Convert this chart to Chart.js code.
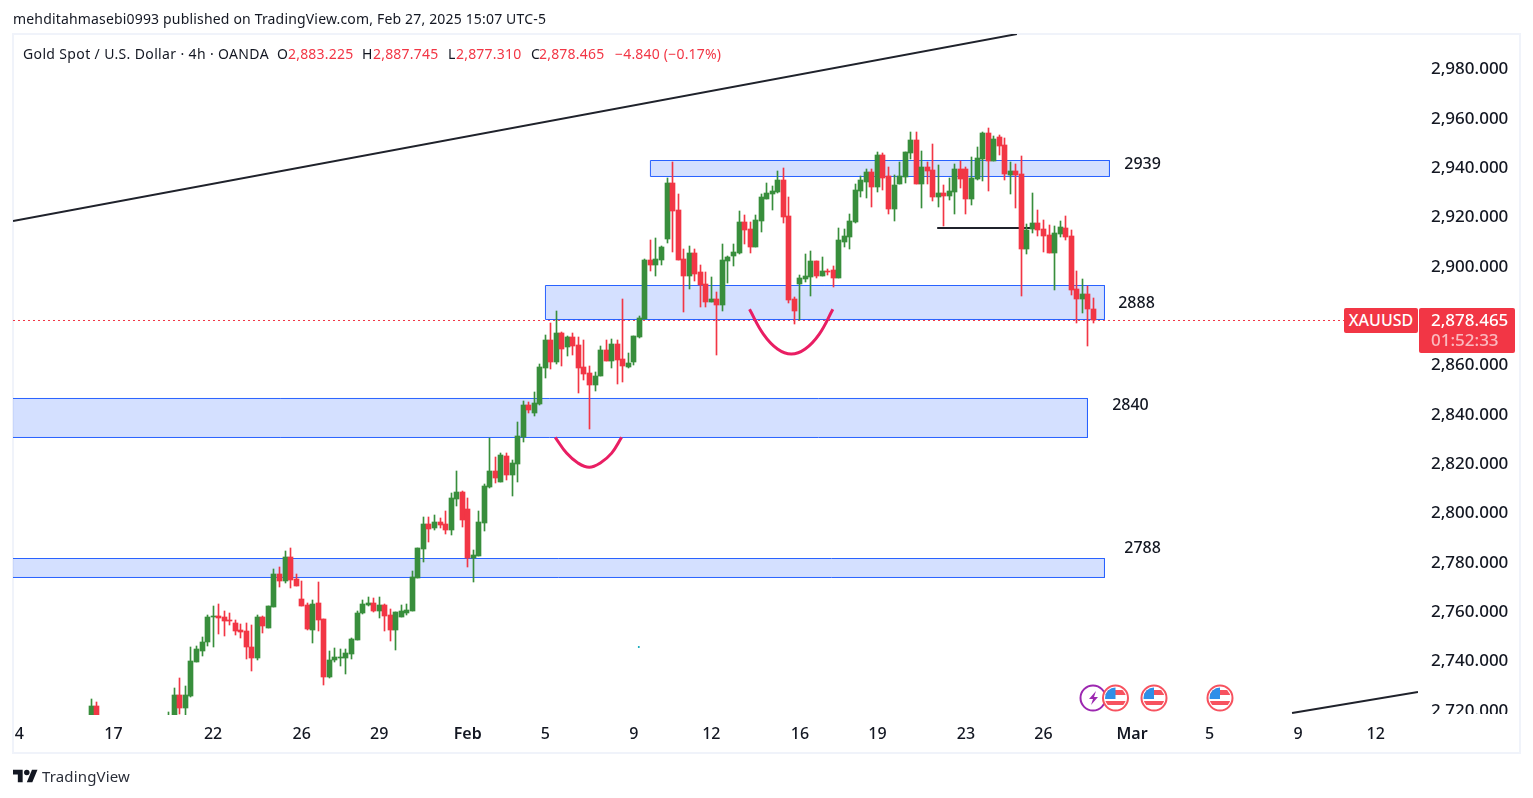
<!DOCTYPE html>
<html>
<head>
<meta charset="utf-8">
<title>XAUUSD 4h</title>
<script src="https://cdn.jsdelivr.net/npm/chart.js@4"></script>
<style>
html,body{margin:0;background:#fff;overflow:hidden}
body{width:1533px;height:798px;position:relative;font-family:"Noto Sans",sans-serif;color:#131722}
canvas{position:absolute;left:0;top:0}
.t{position:absolute;white-space:nowrap;line-height:20px}
.v{font-size:14px;top:44px;letter-spacing:.2px}
.r{color:#f23645}
#frame{position:absolute;left:12px;top:33px;width:1505px;height:717px;border:2px solid #f0f3fa}
#mask{position:absolute;left:1419px;top:714px;width:100px;height:10px;background:#fff}
.tag{position:absolute;background:#f23645;color:#fff;border-radius:2px;text-align:center;white-space:nowrap;font-weight:500}
svg{position:absolute;left:0;top:0}
</style>
</head>
<body>
<div id="frame"></div>
<canvas id="grafico" width="1533" height="798"></canvas>
<div id="mask"></div>
<div class="t" style="left:13px;top:9px;font-size:14px;letter-spacing:.17px">mehditahmasebi0993 published on TradingView.com, Feb 27, 2025 15:07 UTC-5</div>
<div class="t" style="left:23px;top:44px;font-size:14px;letter-spacing:.36px">Gold Spot / U.S. Dollar · 4h · OANDA</div>
<div class="t v" style="left:277px">O</div><div class="t v r" style="left:288px">2,883.225</div>
<div class="t v" style="left:362px">H</div><div class="t v r" style="left:373px">2,887.745</div>
<div class="t v" style="left:448px">L</div><div class="t v r" style="left:456px">2,877.310</div>
<div class="t v" style="left:531px">C</div><div class="t v r" style="left:539px">2,878.465</div>
<div class="t v r" style="left:615px">−4.840 (−0.17%)</div>
<div class="tag" style="left:1344px;top:308px;width:74px;height:25px;line-height:25px;font-size:16px">XAUUSD</div>
<div class="tag" style="left:1419px;top:308px;width:96px;height:45px;font-size:17px;line-height:20px;padding:2px 0 0 12px;box-sizing:border-box;text-align:left">2,878.465<br><span style="opacity:.65">01:52:33</span></div>
<svg width="1533" height="798">
<defs>
<clipPath id="cf"><circle cx="0" cy="0" r="10.5"/></clipPath>
<g id="flag">
<circle r="12.5" fill="#fff" stroke="#f7525f" stroke-width="2"/>
<g clip-path="url(#cf)">
<rect x="-11" y="-8" width="22" height="5" fill="#f7525f"/>
<rect x="-11" y="3" width="22" height="4" fill="#f7525f"/>
<rect x="-11" y="-11" width="11" height="12" fill="#2f8fe8"/>
</g>
</g>
</defs>
<circle cx="1093" cy="698" r="12.5" fill="#fff" stroke="#9c27b0" stroke-width="2"/>
<path d="M1096 691l-7 8h4l-2 6 7-8h-4z" fill="#9c27b0"/>
<use href="#flag" x="1115.5" y="698"/>
<use href="#flag" x="1154" y="698"/>
<use href="#flag" x="1220" y="698"/>
<g transform="translate(13,767) scale(.69)" fill="#131722"><path d="M14 22H7V11H0V4h14v18zM28 22h-8l7.5-18h8L28 22z"/><circle cx="20" cy="8" r="4"/></g>
</svg>
<div class="t" style="left:42px;top:766px;font-size:15px;letter-spacing:.15px;color:#2a2e39">TradingView</div>
<script>
// candles 4h, indice = posicao no eixo x (2 a 13 ficam abaixo da area visivel)
const opens = [
2716,2722.2,null,null,null,null,null,null,null,null,
null,null,null,null,2713,2715,2726.6,2721.5,2726.2,2740.0,
2744.5,2748.1,2758.3,2758.7,2758.3,2757.0,2755.8,2753.0,2752.6,2746.1,
2741.6,2758.3,2753.8,2762.3,2775.7,2772.8,2782.6,2773.6,2765.5,2763.1,
2753.0,2763.9,2757.4,2733.9,2740.8,2741.6,2741.6,2743.2,2748.9,2759.9,
2763.1,2763.9,2760.7,2763.1,2759.0,2753.0,2758.3,2759.9,2760.7,2774.0,
2785.8,2796.0,2794.3,2796.8,2796.0,2793.5,2806.1,2808.9,2802.0,2782.2,
2783.0,2796.4,2811.0,2817.4,2813.0,2823.5,2815.8,2820.3,2831.2,2844.2,
2840.9,2844.6,2859.2,2870.6,2861.7,2873.4,2867.7,2871.8,2868.5,2859.6,
2857.2,2852.3,2856.0,2866.5,2862.1,2868.9,2862.9,2859.6,2861.7,2871.8,
2879.1,2903.0,2901.0,2903.0,2911.5,2934.2,2923.3,2903.4,2896.5,2905.8,
2898.1,2893.3,2886.0,2887.2,2884.8,2902.6,2904.6,2905.8,2918.4,2915.6,
2908.3,2918.8,2927.7,2929.8,2930.6,2935.4,2920.8,2887.2,2893.3,2895.3,
2896.1,2902.6,2896.5,2898.5,2898.9,2895.7,2910.3,2912.3,2918.4,2931.0,
2934.6,2938.7,2932.6,2945.6,2937.0,2923.7,2933.8,2936.6,2946.4,2951.6,
2933.8,2940.7,2939.5,2928.5,2930.2,2928.9,2930.6,2939.9,2939.9,2927.7,
2935.8,2943.9,2954.5,2943.1,2952.9,2949.6,2937.5,2939.1,2937.9,2907.5,
2915.6,2918.0,2915.6,2913.1,2905.8,2913.5,2916.0,2912.7,2891.2,2887.2,
2889.2,2883.225];
const highs = [
2725.0,2723.8,null,null,null,null,null,null,null,null,
null,null,null,null,2719.9,2729.5,2733.5,2730.3,2746.1,2746.5,
2750.1,2759.0,2762.7,2763.5,2760.7,2759.9,2757.0,2755.4,2755.8,2755.0,
2759.0,2758.7,2762.7,2777.7,2778.5,2785.0,2786.2,2775.7,2772.8,2763.9,
2765.1,2772.4,2757.4,2744.5,2745.7,2745.3,2745.3,2749.7,2760.7,2765.1,
2766.3,2765.9,2766.3,2763.5,2761.5,2760.3,2763.1,2763.5,2776.9,2786.2,
2798.8,2798.8,2799.6,2798.4,2801.2,2808.5,2817.4,2809.3,2806.5,2785.4,
2801.2,2812.2,2830.8,2823.1,2824.7,2824.7,2821.9,2837.3,2845.8,2845.4,
2849.5,2860.8,2872.6,2877.5,2882.3,2873.8,2872.2,2873.4,2871.8,2870.6,
2860.0,2857.6,2868.1,2870.6,2871.0,2870.6,2887.2,2865.3,2872.2,2880.3,
2903.4,2911.1,2911.9,2908.7,2936.2,2942.7,2929.8,2907.5,2908.7,2907.5,
2901.0,2898.1,2896.1,2890.0,2909.5,2904.6,2909.5,2922.9,2921.2,2918.4,
2921.2,2929.8,2934.2,2933.0,2939.1,2940.3,2928.5,2888.0,2896.9,2905.4,
2906.7,2902.6,2904.2,2899.4,2900.5,2916.0,2915.6,2921.6,2933.8,2937.0,
2939.9,2939.9,2946.8,2946.4,2940.7,2937.5,2942.7,2946.8,2954.9,2954.9,
2947.2,2942.7,2950.0,2941.5,2933.4,2936.2,2941.9,2943.1,2940.7,2944.7,
2948.8,2954.9,2956.5,2953.3,2953.7,2952.5,2942.7,2941.9,2945.2,2917.6,
2930.2,2923.3,2919.2,2917.2,2916.8,2918.8,2920.8,2915.2,2898.5,2895.3,
2892.5,2887.745];
const lows = [
2714,2714,null,null,null,null,null,null,null,null,
null,null,null,null,2711,2712,2719,2717,2726.0,2740.0,
2742.4,2746.5,2746.1,2751.4,2750.5,2755.0,2751.0,2749.7,2741.2,2736.4,
2740.8,2751.8,2753.8,2762.3,2770.4,2772.0,2770.0,2770.8,2762.7,2753.0,
2747.7,2752.6,2730.7,2733.5,2740.0,2738.4,2735.1,2741.2,2748.9,2759.4,
2762.7,2760.3,2757.9,2752.6,2748.5,2744.9,2758.3,2759.0,2760.7,2774.0,
2780.5,2788.7,2793.5,2794.3,2791.9,2791.5,2803.2,2794.7,2778.5,2772.4,
2783.0,2793.1,2810.6,2812.6,2813.0,2813.8,2807.3,2813.0,2829.2,2840.9,
2839.7,2844.2,2855.2,2858.8,2860.8,2860.0,2864.1,2864.5,2849.1,2854.4,
2834.5,2849.9,2856.0,2862.1,2859.2,2852.7,2853.5,2859.2,2860.4,2871.4,
2879.1,2898.5,2896.5,2901.0,2909.9,2906.2,2903.0,2881.9,2891.2,2894.5,
2883.9,2883.9,2886.0,2864.5,2882.3,2893.7,2900.6,2905.4,2909.5,2905.8,
2908.3,2914.4,2927.7,2923.3,2930.2,2918.0,2885.6,2877.1,2878.7,2894.1,
2888.4,2895.7,2896.5,2896.9,2892.0,2895.7,2908.3,2907.5,2918.0,2928.5,
2928.1,2924.5,2930.6,2931.4,2921.6,2918.8,2933.8,2934.2,2943.9,2933.8,
2924.1,2933.8,2926.9,2924.5,2916.8,2927.3,2921.6,2932.2,2921.6,2925.3,
2935.4,2935.0,2931.0,2943.1,2945.6,2935.4,2929.8,2924.1,2888.4,2905.4,
2914.0,2912.7,2906.2,2905.8,2890.8,2912.3,2911.1,2888.8,2877.5,2881.5,
2868.2,2877.31];
const closes = [
2722.2,2716,null,null,null,null,null,null,null,null,
null,null,null,null,2716,2726.6,2721.5,2726.6,2740.4,2745.3,
2748.1,2758.3,2758.7,2757.9,2756.6,2756.6,2752.6,2752.2,2746.1,2741.6,
2758.3,2754.6,2762.7,2775.7,2772.8,2782.6,2773.2,2770.8,2762.7,2753.4,
2763.5,2757.0,2733.9,2740.8,2742.0,2742.0,2743.7,2749.3,2759.9,2763.5,
2763.9,2760.7,2763.1,2758.7,2753.0,2760.3,2760.7,2761.1,2774.5,2786.2,
2796.0,2793.9,2796.8,2795.5,2793.5,2806.5,2808.9,2797.6,2782.2,2783.4,
2796.8,2811.4,2817.4,2814.6,2823.9,2815.8,2820.7,2831.6,2844.2,2842.2,
2845.0,2859.6,2870.6,2861.7,2873.4,2866.9,2871.8,2868.1,2859.2,2856.8,
2852.3,2856.0,2866.5,2862.1,2868.9,2862.5,2860.0,2861.2,2872.2,2879.5,
2903.0,2901.0,2903.4,2908.3,2934.2,2922.9,2903.0,2896.5,2905.8,2897.3,
2892.9,2886.0,2887.2,2884.8,2903.0,2904.2,2906.2,2918.4,2915.2,2908.3,
2919.2,2928.5,2930.2,2931.0,2935.4,2920.4,2886.8,2882.3,2895.7,2896.5,
2902.6,2896.5,2898.5,2898.1,2895.7,2911.1,2912.7,2918.8,2931.4,2935.4,
2938.7,2932.6,2945.6,2936.2,2923.7,2933.4,2937.0,2946.8,2951.6,2933.8,
2940.7,2939.1,2928.5,2930.2,2928.9,2931.0,2939.9,2935.8,2927.7,2936.2,
2944.3,2954.5,2943.1,2952.1,2949.2,2937.9,2939.1,2937.5,2907.5,2915.2,
2918.0,2915.2,2912.7,2905.8,2913.9,2916.4,2912.3,2890.8,2887.2,2889.2,
2883.2,2878.465];

const tickIndex = [-13,4,22,38,52,68,82,98,112,128,142,158,172,188,202,218,232];
const tickLabels = ['4','17','22','26','29','Feb','5','9','12','16','19','23','26','Mar','5','9','12'];
const priceTicks = [2720,2740,2760,2780,2800,2820,2840,2860,2880,2900,2920,2940,2960,2980];
const lastPrice = 2878.465;

// zonas azuis: [x inicial, x final, topo, base]
const zones = [
    [101.0,183.92,2943.33,2936.85],
    [82.04,183.02,2892.65,2878.87],
    [-20,179.95,2846.84,2831.03],
    [-20,183.02,2781.97,2774.27]
];
const levelText = ['2939','2888','2840','2788'];
const levelX = [186.6,185.5,184.4,186.6];
const levelY = [2941.9,2885.2,2844.2,2786.2];
const trendUp = [{x:-14.14,y:2918.8},{x:167.2,y:2994.6}];
const trendLow = [{x:216.9,y:2719.3},{x:239.65,y:2727.9}];
const neckline = [{x:152.8,y:2916},{x:169.6,y:2916}];
const arcA = [{x:83.8,y:2831.1},{x:85.85,y:2824.7},{x:87.9,y:2820.7},{x:89.95,y:2818.95},{x:91.95,y:2820.7},{x:94,y:2824.7},{x:95.8,y:2831.1}];
const arcB = [{x:118.9,y:2883.0},{x:121.4,y:2872.95},{x:123.95,y:2866.91},{x:126.45,y:2864.88},{x:128.95,y:2866.91},{x:131.5,y:2872.95},{x:133.95,y:2883.0}];
const strayDot = [{x:98.9,y:2746.1}];

const verde = '#388e3c';
const vermelho = '#f23645';
const preto = '#1f222b';
const fonte = '"Noto Sans", sans-serif';

const idx = opens.map((v,i)=>i).filter(i=>opens[i]!==null);
const cor = idx.map(i=>closes[i]<opens[i]?vermelho:verde);

function linha(data,color,width,order,extra){
    return Object.assign({type:'line',data,borderColor:color,borderWidth:width,pointRadius:0,order,fill:false},extra||{});
}

const datasets = [
    {type:'bar',data:idx.map(i=>({x:i,y:[lows[i],highs[i]]})),backgroundColor:cor,barThickness:1,grouped:false,order:2,_snap:true},
    {type:'bar',data:idx.map(i=>({x:i,y:[opens[i],closes[i]]})),backgroundColor:cor,barThickness:5,grouped:false,order:1,_snap:true},
    linha(trendUp,preto,2,3),
    linha(trendLow,preto,2,3),
    linha(neckline,preto,2,3),
    linha(arcA,'#e91e63',3,0,{tension:.4}),
    linha(arcB,'#e91e63',3,0,{tension:.4}),
    linha([{x:-14.14,y:lastPrice},{x:239.65,y:lastPrice}],vermelho,1,4,{borderDash:[2,3]}),
    {type:'line',data:strayDot,showLine:false,pointRadius:1,pointBorderWidth:0,pointBackgroundColor:'#00a3b5',order:0}
];
zones.forEach(z=>{
    datasets.push(linha([{x:z[0],y:z[2]},{x:z[1],y:z[2]},{x:z[1],y:z[3]},{x:z[0],y:z[3]},{x:z[0],y:z[2]}],'#2962ff',1,10,{fill:'shape',backgroundColor:'rgba(41,98,255,0.2)'}));
});

// alinha as velas ao pixel para ficarem nitidas como no original
const alinharVelas = {
    id:'alinharVelas',
    afterDatasetsUpdate(chart){
        chart.data.datasets.forEach((ds,i)=>{
            if(!ds._snap) return;
            chart.getDatasetMeta(i).data.forEach(el=>{
                el.x = Math.floor(el.x)+0.5;
                el.y = Math.round(el.y);
                el.base = Math.round(el.base);
                if(Math.abs(el.base-el.y)<1) el.base = el.y+1;
            });
        });
    }
};

// no original o texto do preco fica um pouco acima da marca
const subirPrecos = {
    id:'subirPrecos',
    beforeDraw(chart){
        chart.scales.y.getLabelItems().forEach(item=>{
            if(!item._subiu){ item.options.translation[1] -= 0.5; item._subiu = true; }
        });
    }
};

const rotulosNiveis = {
    id:'rotulosNiveis',
    afterDatasetsDraw(chart){
        const c = chart.ctx;
        c.save();
        c.font = '500 16px '+fonte;
        c.fillStyle = '#131722';
        c.textBaseline = 'middle';
        levelText.forEach((t,i)=>{
            c.fillText(t,chart.scales.x.getPixelForValue(levelX[i]),chart.scales.y.getPixelForValue(levelY[i]));
        });
        c.restore();
    }
};

new Chart(document.getElementById('grafico').getContext('2d'),{
    data:{datasets},
    plugins:[alinharVelas,subirPrecos,rotulosNiveis],
    options:{
        responsive:false,
        animation:false,
        events:[],
        layout:{padding:{left:13,top:34,right:13,bottom:44}},
        plugins:{legend:{display:false},tooltip:{enabled:false}},
        scales:{
            x:{
                type:'linear',min:-14.14,max:239.65,offset:false,
                grid:{display:false},border:{display:false},
                afterFit:s=>{s.height=39;},
                afterBuildTicks:s=>{s.ticks=tickIndex.map(v=>({value:v}));},
                ticks:{
                    autoSkip:false,maxRotation:0,padding:2,color:'#131722',
                    font:ctx=>({family:fonte,size:16,weight:(tickLabels[tickIndex.indexOf(ctx.tick&&ctx.tick.value)]==='Feb'||tickLabels[tickIndex.indexOf(ctx.tick&&ctx.tick.value)]==='Mar')?'600':'500'}),
                    callback:v=>tickLabels[tickIndex.indexOf(v)]
                }
            },
            y:{
                type:'linear',position:'right',min:2718.52,max:2994.62,
                grid:{display:false},border:{display:false},
                afterFit:s=>{s.width=102;},
                afterBuildTicks:s=>{s.ticks=priceTicks.map(v=>({value:v}));},
                ticks:{
                    autoSkip:false,padding:5,color:'#131722',font:{family:fonte,size:17,weight:'500'},
                    callback:v=>v.toLocaleString('en-US',{minimumFractionDigits:3})
                }
            }
        }
    }
});
</script>
</body>
</html>
